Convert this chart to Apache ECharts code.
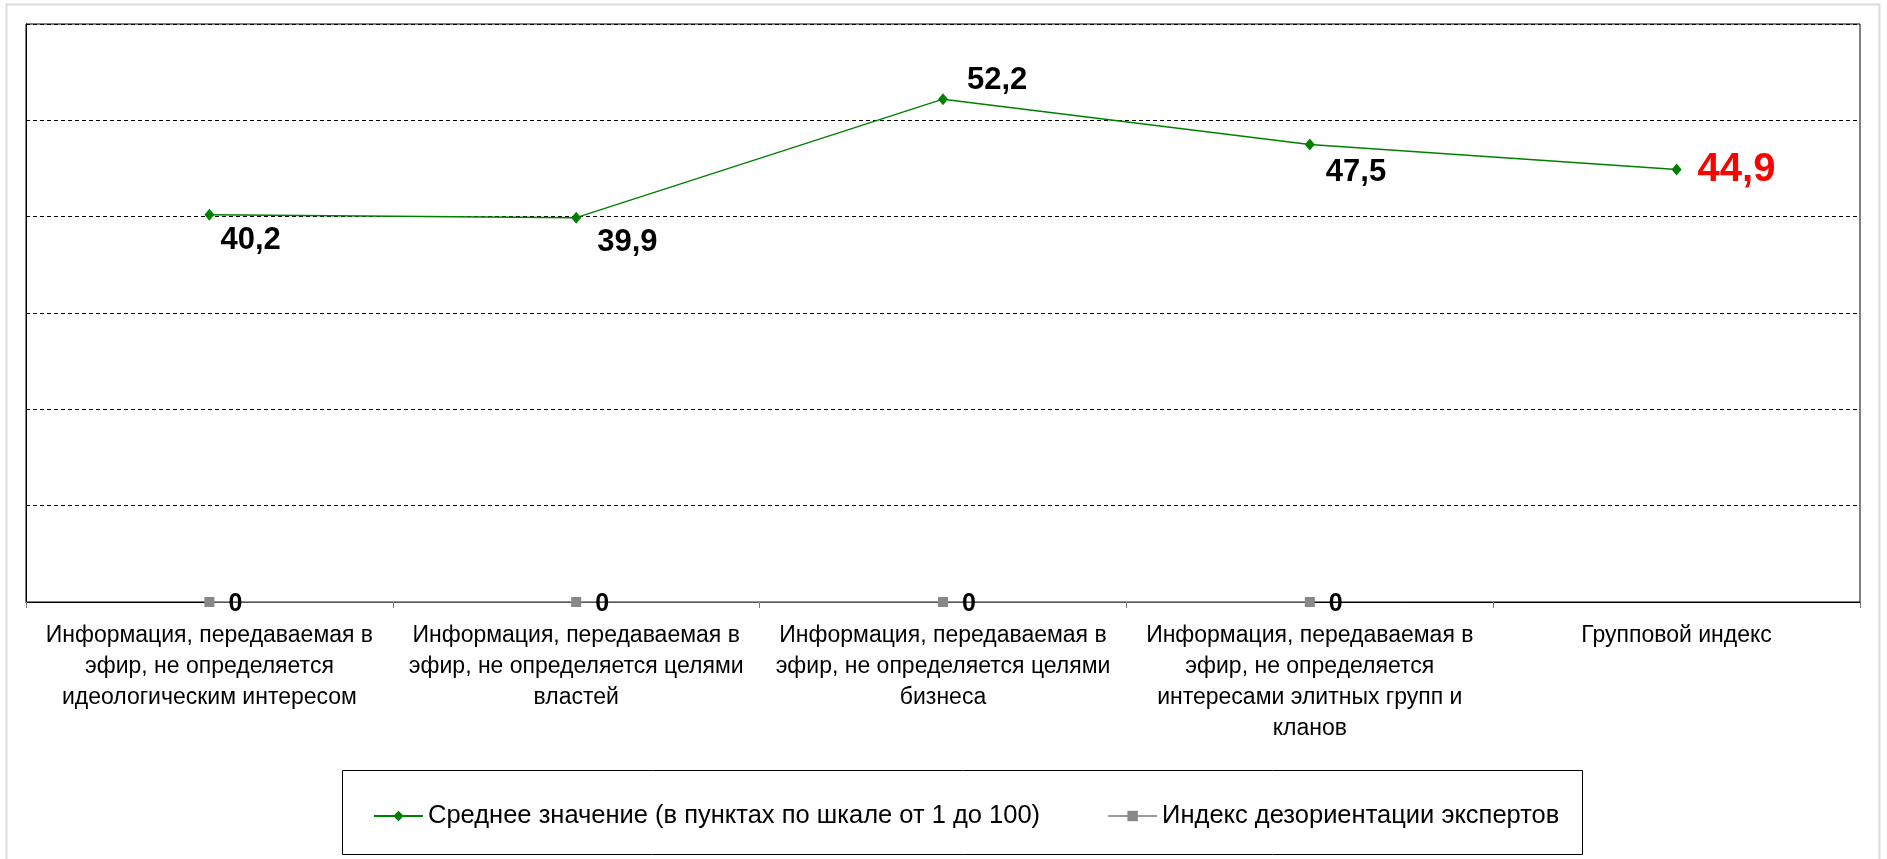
<!DOCTYPE html>
<html>
<head>
<meta charset="utf-8">
<title>Индекс</title>
<script src="https://cdn.jsdelivr.net/npm/echarts@6/dist/echarts.min.js"></script>
<style>
  html, body { margin: 0; padding: 0; background: #fff; }
  #chart { width: 1887px; height: 859px; }
</style>
</head>
<body>
<div id="chart"></div>
<script>
// категории (переносы строк как на исходной картинке)
const categories = [
  'Информация, передаваемая в\nэфир, не определяется\nидеологическим интересом',
  'Информация, передаваемая в\nэфир, не определяется целями\nвластей',
  'Информация, передаваемая в\nэфир, не определяется целями\nбизнеса',
  'Информация, передаваемая в\nэфир, не определяется\nинтересами элитных групп и\nкланов',
  'Групповой индекс'
];
const meanValues = [40.2, 39.9, 52.2, 47.5, 44.9];
const disorientValues = [0, 0, 0, 0, null];
const seriesNames = [
  'Среднее значение (в пунктах по шкале от 1 до 100)',
  'Индекс дезориентации экспертов'
];
const yTicks = { min: 0, max: 60, interval: 10 };

// смещения подписей (как расставил Excel)
const meanLabelShift = [[1, 26], [11, 25], [14, -19], [6, 28], [11, 1]];

const font = '"Liberation Sans", Arial, sans-serif';
const fmt = (v) => String(v).replace('.', ',');

const chart = echarts.init(document.getElementById('chart'));

const meanData = meanValues.map((v, i) => {
  const last = i === meanValues.length - 1;
  return {
    value: v,
    label: {
      offset: meanLabelShift[i],
      color: last ? '#ff0000' : '#000',
      fontSize: last ? 40 : 31
    }
  };
});

const option = {
  backgroundColor: '#fff',
  animation: false,
  textStyle: { fontFamily: font },
  graphic: [
    {
      type: 'rect',
      shape: { x: 6.5, y: 4.5, width: 1873, height: 900 },
      style: { fill: 'none', stroke: '#dcdcdc', lineWidth: 2 },
      silent: true,
      z: -10
    },
    {
      type: 'rect',
      shape: { x: 342.5, y: 770.5, width: 1240, height: 84 },
      style: { fill: 'none', stroke: '#000', lineWidth: 1 },
      silent: true
    }
  ],
  grid: {
    left: 26,
    right: 27,
    top: 24,
    bottom: 257,
    show: true,
    borderColor: '#000',
    borderWidth: 1,
    backgroundColor: '#fff'
  },
  legend: {
    data: seriesNames,
    left: 373,
    top: 803,
    padding: 0,
    itemWidth: 49,
    itemHeight: 13,
    itemGap: 67,
    textStyle: { fontSize: 25.5, color: '#000', fontFamily: font }
  },
  xAxis: {
    type: 'category',
    data: categories,
    boundaryGap: true,
    axisLine: { lineStyle: { color: '#000', width: 1 } },
    axisTick: { show: true, length: 6, lineStyle: { color: '#777' } },
    axisLabel: {
      interval: 0,
      margin: 18,
      fontSize: 23,
      lineHeight: 31,
      color: '#000',
      align: 'center'
    }
  },
  yAxis: {
    type: 'value',
    min: yTicks.min,
    max: yTicks.max,
    interval: yTicks.interval,
    axisLabel: { show: false },
    axisTick: { show: false },
    axisLine: { show: true, lineStyle: { color: '#000' } },
    splitLine: {
      show: true,
      lineStyle: { color: '#000', width: 1, type: [4, 3] }
    }
  },
  series: [
    {
      name: seriesNames[0],
      type: 'line',
      data: meanData,
      symbol: 'diamond',
      symbolSize: [10, 12],
      itemStyle: { color: '#008000' },
      lineStyle: { color: '#008000', width: 1.5 },
      label: {
        show: true,
        position: 'right',
        distance: 5,
        fontWeight: 'bold',
        fontFamily: font,
        formatter: (p) => fmt(p.value)
      },
      z: 3
    },
    {
      name: seriesNames[1],
      type: 'line',
      data: disorientValues,
      symbol: 'rect',
      symbolSize: 10,
      itemStyle: { color: '#888' },
      lineStyle: { color: '#999', width: 1.5 },
      label: {
        show: true,
        position: 'right',
        distance: 5,
        offset: [9, 2],
        fontSize: 25,
        fontWeight: 'bold',
        color: '#000',
        fontFamily: font,
        formatter: (p) => fmt(p.value)
      },
      z: 4
    }
  ]
};

chart.setOption(option);
</script>
</body>
</html>
